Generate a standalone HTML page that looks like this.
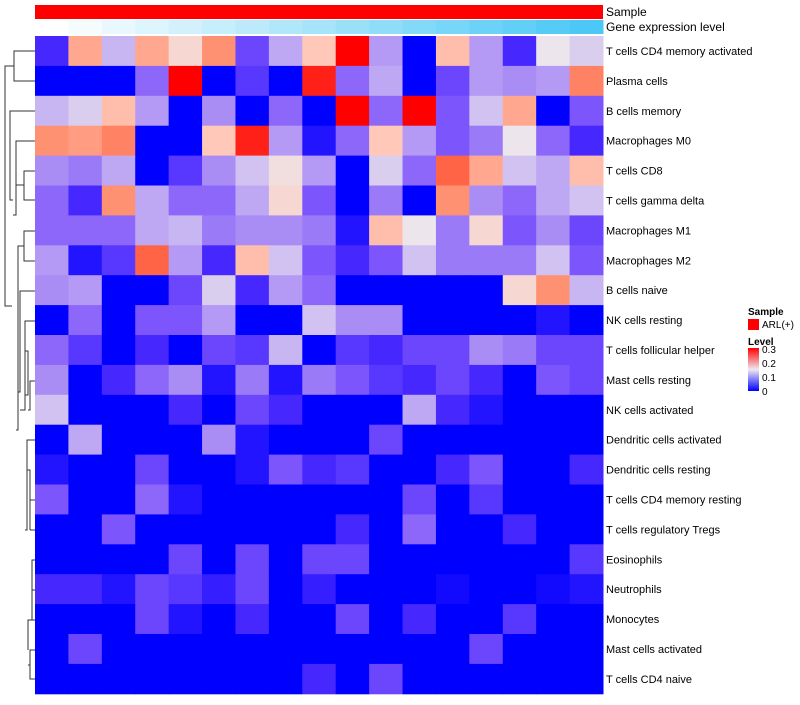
<!DOCTYPE html>
<html><head><meta charset="utf-8"><style>
body{margin:0;background:#fff;font-family:"Liberation Sans",sans-serif}
svg text{font-family:"Liberation Sans",sans-serif}
</style></head><body>
<svg id="c" width="800" height="700">
<g id="dend" stroke="#333" fill="none" stroke-width="1">
<path d="M35,51 H14 V81 H35 M14,66 H5 V306 H12"/>
<path d="M35,111 H10 V200 H13"/>
<path d="M35,141 H16 V215 H13 M16,185 H17"/>
<path d="M35,171 H24 V200 H35 M24,185 H16"/>
<path d="M35,231 H24 V261 H35 M24,246 H18 V430 H16"/>
<path d="M35,291 H20 V392 H18"/>
<path d="M35,321 H25 V410 H20 M25,351 H28 V395 H25"/>
<path d="M35,381 H30 V410 H28 M30,395"/>
<path d="M35,440 H27 V530 H25 M27,470 H30 V530"/>
<path d="M35,500 H30 M35,530 H30"/>
<path d="M35,560 H32 V620 H28 V650 M35,590 H32 M35,620 H32 M35,650 H30 V679 H35 M30,665 H28"/>
</g>
<g id="cells"></g>
<g id="labels"></g>
<text x="606" y="16" font-size="12">Sample</text>
<text x="606" y="31" font-size="12">Gene expression level</text>
<g>
<text x="748" y="315" font-size="10" font-weight="bold">Sample</text>
<rect x="748" y="319" width="11" height="11" fill="#ff0000"/>
<text x="762" y="328" font-size="10">ARL(+)</text>
<text x="748" y="345" font-size="10" font-weight="bold">Level</text>
<defs><linearGradient id="lg" x1="0" y1="1" x2="0" y2="0">
<stop offset="0" stop-color="#0000ff"/><stop offset="0.5" stop-color="#eeeaf0"/><stop offset="1" stop-color="#ff0000"/></linearGradient></defs>
<rect x="748" y="348" width="11" height="43" fill="url(#lg)"/>
<text x="762" y="353" font-size="10">0.3</text>
<text x="762" y="367" font-size="10">0.2</text>
<text x="762" y="381" font-size="10">0.1</text>
<text x="762" y="395" font-size="10">0</text>
</g>
</svg>
<script>
const rowLabels=["T cells CD4 memory activated","Plasma cells","B cells memory","Macrophages M0","T cells CD8","T cells gamma delta","Macrophages M1","Macrophages M2","B cells naive","NK cells resting","T cells follicular helper","Mast cells resting","NK cells activated","Dendritic cells activated","Dendritic cells resting","T cells CD4 memory resting","T cells regulatory  Tregs","Eosinophils","Neutrophils","Monocytes","Mast cells activated","T cells CD4 naive"];
const values=[
[0.02,0.22,0.11,0.22,0.17,0.24,0.04,0.10,0.19,0.3,0.09,0,0.2,0.09,0.02,0.15,0.13],
[0,0,0,0.06,0.3,0,0.03,0,0.29,0.06,0.10,0,0.04,0.09,0.08,0.09,0.25],
[0.11,0.13,0.2,0.09,0,0.08,0,0.06,0,0.3,0.06,0.3,0.05,0.12,0.22,0,0.05],
[0.24,0.23,0.25,0,0,0.19,0.29,0.09,0.01,0.06,0.19,0.09,0.05,0.07,0.15,0.06,0.02],
[0.08,0.07,0.1,0,0.03,0.08,0.12,0.16,0.09,0,0.13,0.06,0.27,0.22,0.12,0.10,0.2],
[0.06,0.02,0.24,0.10,0.06,0.06,0.10,0.17,0.05,0,0.07,0,0.24,0.08,0.06,0.10,0.12],
[0.06,0.06,0.06,0.10,0.11,0.07,0.08,0.08,0.07,0.01,0.2,0.15,0.07,0.17,0.05,0.08,0.04],
[0.09,0.01,0.03,0.27,0.09,0.02,0.2,0.12,0.05,0.02,0.05,0.12,0.07,0.07,0.07,0.12,0.05],
[0.08,0.09,0,0,0.04,0.13,0.02,0.09,0.06,0,0,0,0,0,0.17,0.24,0.11],
[0,0.06,0,0.05,0.05,0.09,0,0,0.12,0.08,0.08,0,0,0,0,0.01,0],
[0.06,0.03,0,0.02,0,0.04,0.03,0.11,0,0.03,0.02,0.04,0.04,0.08,0.07,0.04,0.04],
[0.08,0,0.02,0.06,0.08,0.01,0.07,0.01,0.07,0.05,0.03,0.02,0.04,0.02,0,0.05,0.04],
[0.12,0,0,0,0.02,0,0.04,0.02,0,0,0,0.10,0.02,0.01,0,0,0],
[0,0.10,0,0,0,0.08,0.01,0,0,0,0.04,0,0,0,0,0,0],
[0.01,0,0,0.04,0,0,0.01,0.05,0.02,0.03,0,0,0.02,0.05,0,0,0.02],
[0.05,0,0,0.06,0.01,0,0,0,0,0,0,0.04,0,0.03,0,0,0],
[0,0,0.05,0,0,0,0,0,0,0.02,0,0.06,0,0,0.02,0,0],
[0,0,0,0,0.04,0,0.04,0,0.04,0.04,0,0,0,0,0,0,0.03],
[0.02,0.02,0.01,0.04,0.03,0.015,0.04,0,0.015,0,0,0,0.005,0,0,0.005,0.01],
[0,0,0,0.04,0.01,0,0.02,0,0,0.04,0,0.02,0,0,0.03,0,0],
[0,0.04,0,0,0,0,0,0,0,0,0,0,0,0.04,0,0,0],
[0,0,0,0,0,0,0,0,0.02,0,0.04,0,0,0,0,0,0]];
const geneLevel=[0,1,2,3,4,5,6,7,8,9,10,11,12,13,14,15,16];
const stops=[[0,[0,0,255]],[0.02,[70,40,255]],[0.05,[125,85,252]],[0.08,[170,140,245]],[0.11,[200,182,242]],[0.15,[236,230,236]],[0.19,[255,200,185]],[0.24,[255,145,115]],[0.27,[255,100,70]],[0.3,[255,0,0]]];
function col(v){v=Math.max(0,Math.min(0.3,v));for(let i=1;i<stops.length;i++){if(v<=stops[i][0]){const a=stops[i-1],b=stops[i],t=(v-a[0])/(b[0]-a[0]);return 'rgb('+a[1].map((x,k)=>Math.round(x+(b[1][k]-x)*t)).join(',')+')';}}return 'rgb(255,0,0)';}
const X0=35,X1=603,Y0=36,RH=29.9;
const nC=values[0].length,CW=(X1-X0)/nC;
const xs=j=>X0+j*CW, ys=i=>Y0+i*RH;
const NS='http://www.w3.org/2000/svg';
const g=document.getElementById('cells'),lg=document.getElementById('labels');
function mk(t,a){const e=document.createElementNS(NS,t);for(const k in a)e.setAttribute(k,a[k]);return e;}
const sb=mk('rect',{x:X0,y:5,width:X1-X0,height:14,fill:'#ff0000'});


g.appendChild(sb);
const gmax=Math.max(...geneLevel);
geneLevel.forEach((v,j)=>{const t=v/gmax;const r=Math.round(255-(255-75)*t),gg=Math.round(255-(255-200)*t),b=Math.round(255-(255-245)*t);
const e=mk('rect',{x:xs(j),y:20,width:CW+0.5,height:14,fill:`rgb(${r},${gg},${b})`});


g.appendChild(e);});
values.forEach((row,i)=>{row.forEach((v,j)=>{const e=mk('rect',{x:xs(j),y:ys(i),width:CW+0.5,height:RH+0.5,fill:col(v)});


g.appendChild(e);});
const t=mk('text',{x:606,y:ys(i)+RH/2+4,'font-size':11});t.textContent=rowLabels[i];


lg.appendChild(t);});
</script>
</body></html>
